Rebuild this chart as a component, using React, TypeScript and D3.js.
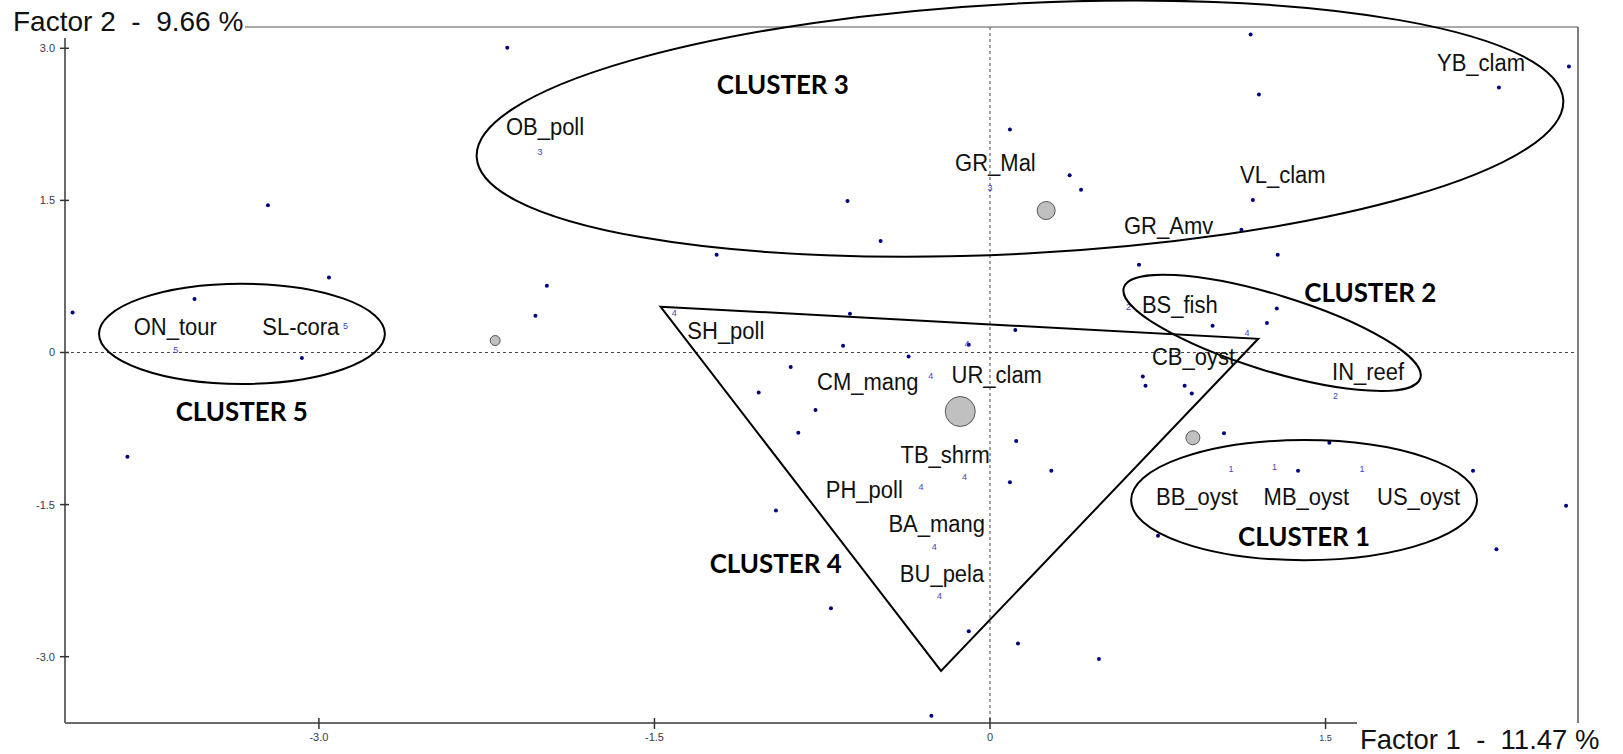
import React from "react";
import * as d3 from "d3";

// Factorial map (Factor 1 x Factor 2) of sampling sites with their cluster groupings.

const X_DOMAIN: [number, number] = [-4.135, 2.624];
const Y_DOMAIN: [number, number] = [-3.654, 3.21];
const X_TICKS = [-3, -1.5, 0, 1.5];
const Y_TICKS = [-3, -1.5, 0, 1.5, 3];

const X_TITLE = "Factor 1  -  11.47 %";
const Y_TITLE = "Factor 2  -  9.66 %";

// Unlabelled individuals (factor coordinates)
const POINTS: [number, number][] = [
  [-2.158, 3.005], [-3.228, 1.451], [0.089, 2.198], [0.356, 1.747], [0.407, 1.606],
  [-0.637, 1.495], [-0.489, 1.1], [-1.222, 0.964], [1.165, 3.136], [1.202, 2.544],
  [2.275, 2.614], [2.588, 2.82], [1.175, 1.504], [1.124, 1.211], [1.286, 0.964],
  [-4.101, 0.395], [-3.556, 0.527], [-2.955, 0.74], [-3.076, -0.055], [-3.856, -1.027],
  [-2.032, 0.362], [-1.981, 0.658], [-0.626, 0.382], [0.113, 0.221], [-0.657, 0.066],
  [-0.095, 0.076], [-0.364, -0.04], [-0.891, -0.144], [-1.034, -0.395], [-0.78, -0.566],
  [-0.857, -0.792], [0.117, -0.872], [0.274, -1.167], [0.089, -1.279], [-0.957, -1.558],
  [0.666, 0.866], [1.282, 0.435], [1.238, 0.29], [0.995, 0.264], [0.683, -0.237],
  [0.695, -0.329], [0.87, -0.329], [0.902, -0.405], [1.046, -0.796], [1.517, -0.89],
  [1.377, -1.167], [2.159, -1.167], [2.575, -1.511], [0.751, -1.808], [2.264, -1.941],
  [0.487, -3.024], [-0.711, -2.523], [-0.095, -2.748], [0.125, -2.869], [-0.262, -3.583],
];

// Cluster membership markers (cluster number, factor 1, factor 2)
const MEMBERS: [number, number, number][] = [
  [3, -2.012, 1.979], [3, 0.0, 1.624],
  [2, 0.619, 0.451], [2, 1.544, -0.427],
  [1, 1.077, -1.148], [1, 1.272, -1.128], [1, 1.663, -1.148],
  [4, 1.149, 0.195], [4, -1.411, 0.393], [4, -0.265, -0.229], [4, -0.103, 0.086],
  [4, -0.114, -1.226], [4, -0.308, -1.318], [4, -0.249, -1.917], [4, -0.226, -2.401],
  [5, -3.64, 0.034], [5, -2.881, 0.264],
];

// Site names and the factor coordinates where each name is written
const SITE_NAMES = [
  "OB_poll", "GR_Mal", "YB_clam", "VL_clam", "GR_Amv", "BS_fish", "CB_oyst", "IN_reef",
  "BB_oyst", "MB_oyst", "US_oyst", "SH_poll", "CM_mang", "UR_clam", "TB_shrm", "PH_poll",
  "BA_mang", "BU_pela", "ON_tour", "SL-cora",
];
const SITE_X = [
  -2.164, -0.156, 1.998, 1.118, 0.599, 0.679, 0.724, 1.529,
  0.742, 1.223, 1.73, -1.353, -0.773, -0.172, -0.4, -0.734,
  -0.454, -0.403, -3.828, -3.253,
];
const SITE_Y = [
  2.147, 1.785, 2.772, 1.673, 1.17, 0.393, -0.121, -0.27,
  -1.503, -1.503, -1.503, 0.135, -0.368, -0.302, -1.086, -1.437,
  -1.767, -2.261, 0.175, 0.175,
];

// Cluster centroids (factor 1, factor 2, relative weight)
const CENTROIDS: [number, number, number][] = [
  [-0.133, -0.582, 15], [0.251, 1.4, 9], [0.907, -0.841, 7], [-2.212, 0.118, 5],
];

// Cluster envelopes: ellipses (centre, semi-axes in factor units, tilt) and one triangle
const ELLIPSES: { cx: number; cy: number; rx: number; ry: number; rot: number }[] = [
  { cx: 0.134, cy: 2.208, rx: 2.432, ry: 1.234, rot: -3 },
  { cx: -3.344, cy: 0.184, rx: 0.639, ry: 0.494, rot: 0 },
  { cx: 1.261, cy: 0.194, rx: 0.693, ry: 0.375, rot: 17 },
  { cx: 1.404, cy: -1.456, rx: 0.773, ry: 0.592, rot: 0 },
];
const TRIANGLE: [number, number][] = [[-1.473, 0.452], [1.199, 0.135], [-0.219, -3.141]];

const CLUSTER_TEXT = ["CLUSTER 1", "CLUSTER 2", "CLUSTER 3", "CLUSTER 4", "CLUSTER 5"];
const CLUSTER_TEXT_X = [1.404, 1.7, -0.926, -0.958, -3.345];
const CLUSTER_TEXT_Y = [-1.91, 0.5, 2.55, -2.17, -0.68];

const W = 1623;
const H = 754;
const M = { left: 65, right: 1577, top: 27, bottom: 723 };

const fmt = (v: number) => (v === 0 ? "0" : v.toFixed(1));

export default function App() {
  const x = d3.scaleLinear().domain(X_DOMAIN).range([M.left, M.right]);
  const y = d3.scaleLinear().domain(Y_DOMAIN).range([M.bottom, M.top]);
  const kx = x(1) - x(0);
  const ky = y(0) - y(1);
  const tri = d3.line()(TRIANGLE.map(([a, b]) => [x(a), y(b)] as [number, number])) + "Z";
  const axisColor = "#6a6a6a";
  const font = "'Liberation Sans', Arial, sans-serif";

  return (
    <svg
      width={W}
      height={H}
      style={{ position: "absolute", left: 0, top: 0, background: "#fff" }}
      fontFamily={font}
    >
      {/* frame */}
      <line x1={245} x2={M.right + 1} y1={M.top} y2={M.top} stroke="#555" strokeWidth={1.2} />
      <line x1={M.right + 1} x2={M.right + 1} y1={M.top} y2={M.bottom} stroke="#555" strokeWidth={1.5} />
      {/* zero reference lines */}
      <line x1={M.left} x2={M.right} y1={y(0)} y2={y(0)} stroke="#444" strokeDasharray="3,3" strokeWidth={1} />
      <line x1={x(0)} x2={x(0)} y1={M.top} y2={M.bottom} stroke="#444" strokeDasharray="3,3" strokeWidth={1} />
      {/* axes */}
      <line x1={M.left} x2={M.left} y1={38} y2={M.bottom} stroke={axisColor} strokeWidth={2} />
      <line x1={M.left} x2={1357} y1={M.bottom} y2={M.bottom} stroke={axisColor} strokeWidth={2} />
      {Y_TICKS.map((t) => (
        <g key={"yt" + t}>
          <line x1={M.left - 5} x2={M.left + 4} y1={y(t)} y2={y(t)} stroke="#333" strokeWidth={1.5} />
          <text x={M.left - 10} y={y(t) + 4} fontSize={11} textAnchor="end" fill="#3a3a4a">
            {fmt(t)}
          </text>
        </g>
      ))}
      {X_TICKS.map((t) => (
        <g key={"xt" + t}>
          <line x1={x(t)} x2={x(t)} y1={M.bottom - 5} y2={M.bottom + 6} stroke="#333" strokeWidth={1.5} />
          <text x={x(t)} y={M.bottom + 18} fontSize={t === 1.5 ? 9 : 11} textAnchor="middle" fill="#3a3a4a">
            {fmt(t)}
          </text>
        </g>
      ))}
      <text x={13} y={31} fontSize={28} fill="#111" style={{ whiteSpace: "pre" }}>
        {Y_TITLE}
      </text>
      <text x={1360} y={749} fontSize={27.5} fill="#111" style={{ whiteSpace: "pre" }}>
        {X_TITLE}
      </text>

      {/* individuals */}
      {POINTS.map(([a, b], i) => (
        <circle key={"p" + i} cx={x(a)} cy={y(b)} r={2} fill="#000080" />
      ))}
      {MEMBERS.map(([c, a, b], i) => (
        <text key={"m" + i} x={x(a)} y={y(b) + 3.5} fontSize={9} textAnchor="middle" fill="#4444bb">
          {c}
        </text>
      ))}

      {/* centroids */}
      {CENTROIDS.map(([a, b, r], i) => (
        <circle key={"c" + i} cx={x(a)} cy={y(b)} r={r} fill="#c0c0c0" stroke="#555" strokeWidth={1} />
      ))}

      {/* cluster envelopes */}
      {ELLIPSES.map((e, i) => (
        <ellipse
          key={"e" + i}
          cx={x(e.cx)}
          cy={y(e.cy)}
          rx={e.rx * kx}
          ry={e.ry * ky}
          transform={`rotate(${e.rot} ${x(e.cx)} ${y(e.cy)})`}
          fill="none"
          stroke="#000"
          strokeWidth={2}
        />
      ))}
      <path d={tri} fill="none" stroke="#000" strokeWidth={2} strokeLinejoin="miter" />

      {/* site names (slightly tall lettering) */}
      {SITE_NAMES.map((n, i) => (
        <text
          key={"s" + i}
          transform={`translate(${x(SITE_X[i])},${y(SITE_Y[i])}) scale(1,1.12)`}
          fontSize={22}
          fill="#111"
        >
          {n}
        </text>
      ))}

      {/* cluster names */}
      {CLUSTER_TEXT.map((n, i) => (
        <text
          key={"k" + i}
          x={x(CLUSTER_TEXT_X[i])}
          y={y(CLUSTER_TEXT_Y[i])}
          fontSize={27}
          fontWeight={700}
          fontFamily="Lato, 'Open Sans', sans-serif"
          textAnchor="middle"
          textLength={132}
          lengthAdjust="spacingAndGlyphs"
          fill="#000"
        >
          {n}
        </text>
      ))}
    </svg>
  );
}
